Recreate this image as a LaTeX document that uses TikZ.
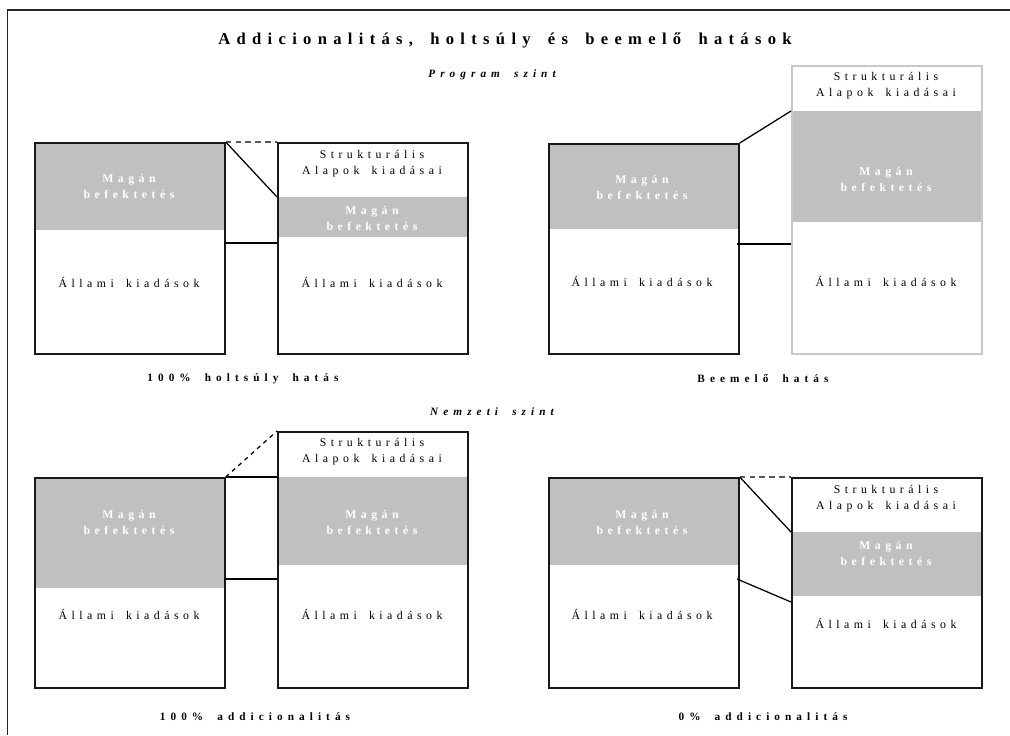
\documentclass[tikz,border=0pt]{standalone}
\usepackage{fontspec}
\usepackage{tikz}
\usepackage[dvipsnames]{xcolor}
\newfontfamily\spaced[LetterSpace=38,WordSpace=1.8]{Liberation Serif}
\newfontfamily\spacedwide[LetterSpace=45,WordSpace=1.8]{Liberation Serif}
\newfontfamily\spacedtitle[LetterSpace=38,WordSpace=1.65]{Liberation Serif}
\definecolor{bandgray}{HTML}{C0C0C0}
\definecolor{palegray}{HTML}{C8C8C8}

\begin{document}
\begin{tikzpicture}[
  x=0.025cm, y=-0.025cm,
  pane/.style={draw=black!90, line width=1.2pt, anchor=north west, inner sep=0pt, minimum width=4.75cm},
  band/.style={fill=bandgray, anchor=north west, inner sep=0pt, minimum width=4.75cm},
  ]
  \tikzset{%
    body/.style={font=\spaced\fontsize{8.4}{11.4}\selectfont, align=center, inner sep=0pt},
    whitebody/.style={body, text=white, font=\spaced\bfseries\fontsize{8.4}{11.4}\selectfont},
    caption/.style={font=\spacedwide\bfseries\fontsize{8}{9}\selectfont, inner sep=0pt},
    level/.style={font=\spacedwide\bfseries\itshape\fontsize{8}{9}\selectfont, inner sep=0pt},
    link/.style={line width=0.9pt},
  }
  \useasboundingbox (0,0) rectangle (1010,735);
  \draw[line width=1.2pt, black!85] (7.5,735) -- (7.5,10) -- (1010,10);
  %Titles
  \node[font=\spacedtitle\bfseries\fontsize{11.8}{14}\selectfont, inner sep=0pt] (title) at (505,40) {Addicionalitás, holtsúly és beemelő hatások};
  \node[level] (prog) at (492,75) {Program szint};
  \node[level] (nemz) at (492,412) {Nemzeti szint};
  %Bands
  \node[band, minimum height=2.2cm] (aLb) at (34,142) {};
  \node[band, minimum height=1cm] (aRb) at (277,197) {};
  \node[band, minimum height=2.15cm] (bLb) at (548,143) {};
  \node[band, minimum height=2.775cm] (bRb) at (791,111) {};
  \node[band, minimum height=2.775cm] (cLb) at (34,477) {};
  \node[band, minimum height=2.2cm] (cRb) at (277,477) {};
  \node[band, minimum height=2.2cm] (dLb) at (548,477) {};
  \node[band, minimum height=1.6cm] (dRb) at (791,532) {};
  %Panes
  \node[pane, minimum height=5.275cm] (aL) at (34,142) {};
  \node[pane, minimum height=5.275cm] (aR) at (277,142) {};
  \node[pane, minimum height=5.25cm] (bL) at (548,143) {};
  \node[pane, draw=palegray, minimum height=7.2cm] (bR) at (791,65) {};
  \node[pane, minimum height=5.25cm] (cL) at (34,477) {};
  \node[pane, minimum height=6.4cm] (cR) at (277,431) {};
  \node[pane, minimum height=5.25cm] (dL) at (548,477) {};
  \node[pane, minimum height=5.25cm] (dR) at (791,477) {};
  %Texts
  \node[whitebody] (aLm) at (129,186.5) {Magán\\befektetés};
  \node[body] (aLa) at (129,282) {Állami kiadások};
  \node[body] (aRs) at (372,164) {Strukturális\\Alapok kiadásai};
  \node[whitebody] (aRm) at (372,218.5) {Magán\\befektetés};
  \node[body] (aRa) at (372,282) {Állami kiadások};
  \node[caption] (aCap) at (243,379) {100\% holtsúly hatás};
  \node[whitebody] (bLm) at (642,187) {Magán\\befektetés};
  \node[body] (bLa) at (642,281) {Állami kiadások};
  \node[body] (bRs) at (886,86) {Strukturális\\Alapok kiadásai};
  \node[whitebody] (bRm) at (886,179) {Magán\\befektetés};
  \node[body] (bRa) at (886,281) {Állami kiadások};
  \node[caption] (bCap) at (763,379) {Beemelő hatás};
  \node[whitebody] (cLm) at (129,522) {Magán\\befektetés};
  \node[body] (cLa) at (129,614) {Állami kiadások};
  \node[body] (cRs) at (372,452) {Strukturális\\Alapok kiadásai};
  \node[whitebody] (cRm) at (372,522) {Magán\\befektetés};
  \node[body] (cRa) at (372,614) {Állami kiadások};
  \node[caption] (cCap) at (255,717) {100\% addicionalitás};
  \node[whitebody] (dLm) at (642,522) {Magán\\befektetés};
  \node[body] (dLa) at (642,614) {Állami kiadások};
  \node[body] (dRs) at (886,499) {Strukturális\\Alapok kiadásai};
  \node[whitebody] (dRm) at (886,553) {Magán\\befektetés};
  \node[body] (dRa) at (886,623) {Állami kiadások};
  \node[caption] (dCap) at (763,717) {0\% addicionalitás};
  %Lines
  \coordinate (aM1) at (224,243);
  \coordinate (aM2) at (277,243);
  \coordinate (bM1) at (737,244);
  \coordinate (bM2) at (791,244);
  \coordinate (cM1) at (224,579);
  \coordinate (cM2) at (277,579);
  \coordinate (cT2) at (277,477);
  \coordinate (dM1) at (737,579);
  \coordinate (dM2) at (791,602);
  \draw[link, dash pattern=on 4pt off 3pt, black!65] (aL.north east) -- (aR.north west);
  \draw[link] (aL.north east) -- (aRb.north west);
  \draw[link] (aM1) -- (aM2);
  \draw[link] (bL.north east) -- (bRb.north west);
  \draw[link] (bM1) -- (bM2);
  \draw[link, dashed] (cL.north east) -- (cR.north west);
  \draw[link] (cL.north east) -- (cT2);
  \draw[link] (cM1) -- (cM2);
  \draw[link, dash pattern=on 4pt off 3pt, black!65] (dL.north east) -- (dR.north west);
  \draw[link] (dL.north east) -- (dRb.north west);
  \draw[link] (dM1) -- (dM2);
\end{tikzpicture}
\end{document}
